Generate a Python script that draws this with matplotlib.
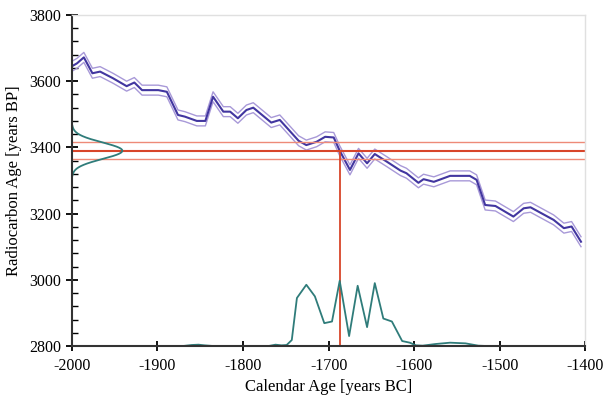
import numpy as np
import matplotlib.pyplot as plt
from matplotlib.ticker import MultipleLocator

plt.rcParams['font.family'] = ['Liberation Serif', 'DejaVu Serif']
plt.rcParams['axes.unicode_minus'] = False

# calibration curve (centre line), years BC vs radiocarbon years BP
cal_x = [-2000, -1994, -1986, -1976, -1967, -1952, -1936, -1927, -1918, -1899,
         -1889, -1876, -1868, -1854, -1844, -1835, -1823, -1815, -1806, -1796,
         -1788, -1767, -1757, -1735, -1726, -1714, -1704, -1694, -1687, -1675,
         -1665, -1655, -1646, -1632, -1616, -1609, -1595, -1589, -1577, -1558,
         -1535, -1527, -1517, -1505, -1484, -1472, -1464, -1437, -1425, -1416,
         -1405]
cal_y = [3645, 3654, 3672, 3624, 3629, 3609, 3585, 3596, 3573, 3573,
         3568, 3498, 3493, 3480, 3480, 3553, 3508, 3508, 3488, 3513,
         3520, 3475, 3483, 3420, 3407, 3417, 3432, 3430, 3390, 3332,
         3382, 3352, 3380, 3357, 3330, 3322, 3293, 3304, 3296, 3314,
         3314, 3302, 3226, 3223, 3191, 3216, 3219, 3181, 3156, 3161,
         3115]
cal_err = 15

# measured radiocarbon date
c14_mean = 3390
c14_sigma = 25
cal_hit = -1687

# calibrated probability distribution (drawn above the 2800 baseline)
prob_x = [-2000, -1870, -1860, -1852, -1845, -1835, -1770, -1762, -1755, -1749,
          -1743, -1737, -1726, -1716, -1705, -1696, -1687, -1676, -1666, -1655,
          -1646, -1636, -1626, -1614, -1605, -1598, -1590, -1575, -1558, -1540,
          -1525, -1515, -1400]
prob_y = [2800, 2800, 2803, 2804, 2802, 2800, 2800, 2804, 2802, 2803,
          2818, 2945, 2985, 2950, 2869, 2874, 2997, 2830, 2982, 2857,
          2990, 2883, 2874, 2815, 2810, 2802, 2801, 2806, 2810, 2808,
          2801, 2800, 2800]

fig = plt.figure(figsize=(6.04, 4.0), dpi=100)
ax = fig.add_axes([0.119, 0.135, 0.85, 0.8275])

cal_x = np.array(cal_x)
cal_y = np.array(cal_y)
ax.plot(cal_x, cal_y + cal_err, color='#a899d8', lw=1.0)
ax.plot(cal_x, cal_y - cal_err, color='#a899d8', lw=1.0)
ax.plot(cal_x, cal_y, color='#4236a0', lw=1.5)

# red lines for the measured date
ax.axhline(c14_mean, color='#d8452a', lw=1.5)
ax.axhline(c14_mean + c14_sigma, color='#ee8a78', lw=1.0)
ax.axhline(c14_mean - c14_sigma, color='#ee8a78', lw=1.0)
ax.plot([cal_hit, cal_hit], [2800, c14_mean], color='#d8452a', lw=1.3)

# gaussian of the measurement on the y axis
gy = np.linspace(c14_mean - 75, c14_mean + 75, 200)
gx = -2000 + 59 * np.exp(-0.5 * ((gy - c14_mean) / c14_sigma) ** 2)
ax.plot(gx, gy, color='#2f7c7a', lw=1.3)

ax.plot(prob_x, prob_y, color='#2f7c7a', lw=1.3)

ax.set_xlim(-2000, -1400)
ax.set_ylim(2800, 3800)
ax.xaxis.set_major_locator(MultipleLocator(100))
ax.yaxis.set_major_locator(MultipleLocator(200))
ax.yaxis.set_minor_locator(MultipleLocator(40))
ax.tick_params(axis='x', direction='inout', length=7, width=1.3, labelsize=11.5, pad=5)
ax.tick_params(axis='y', which='major', direction='inout', length=9, width=1.3, labelsize=11.5)
ax.tick_params(axis='y', which='minor', direction='in', length=4, width=1.0)
for s in ['left', 'bottom']:
    ax.spines[s].set_linewidth(1.5)
    ax.spines[s].set_color('#333333')
for s in ['top', 'right']:
    ax.spines[s].set_color('#e0e0e0')
    ax.spines[s].set_linewidth(1.0)

ax.set_xlabel('Calendar Age [years BC]', fontsize=12, labelpad=4)
ax.set_ylabel('Radiocarbon Age [years BP]', fontsize=12, labelpad=5)

fig.savefig('out.png', dpi=100)
